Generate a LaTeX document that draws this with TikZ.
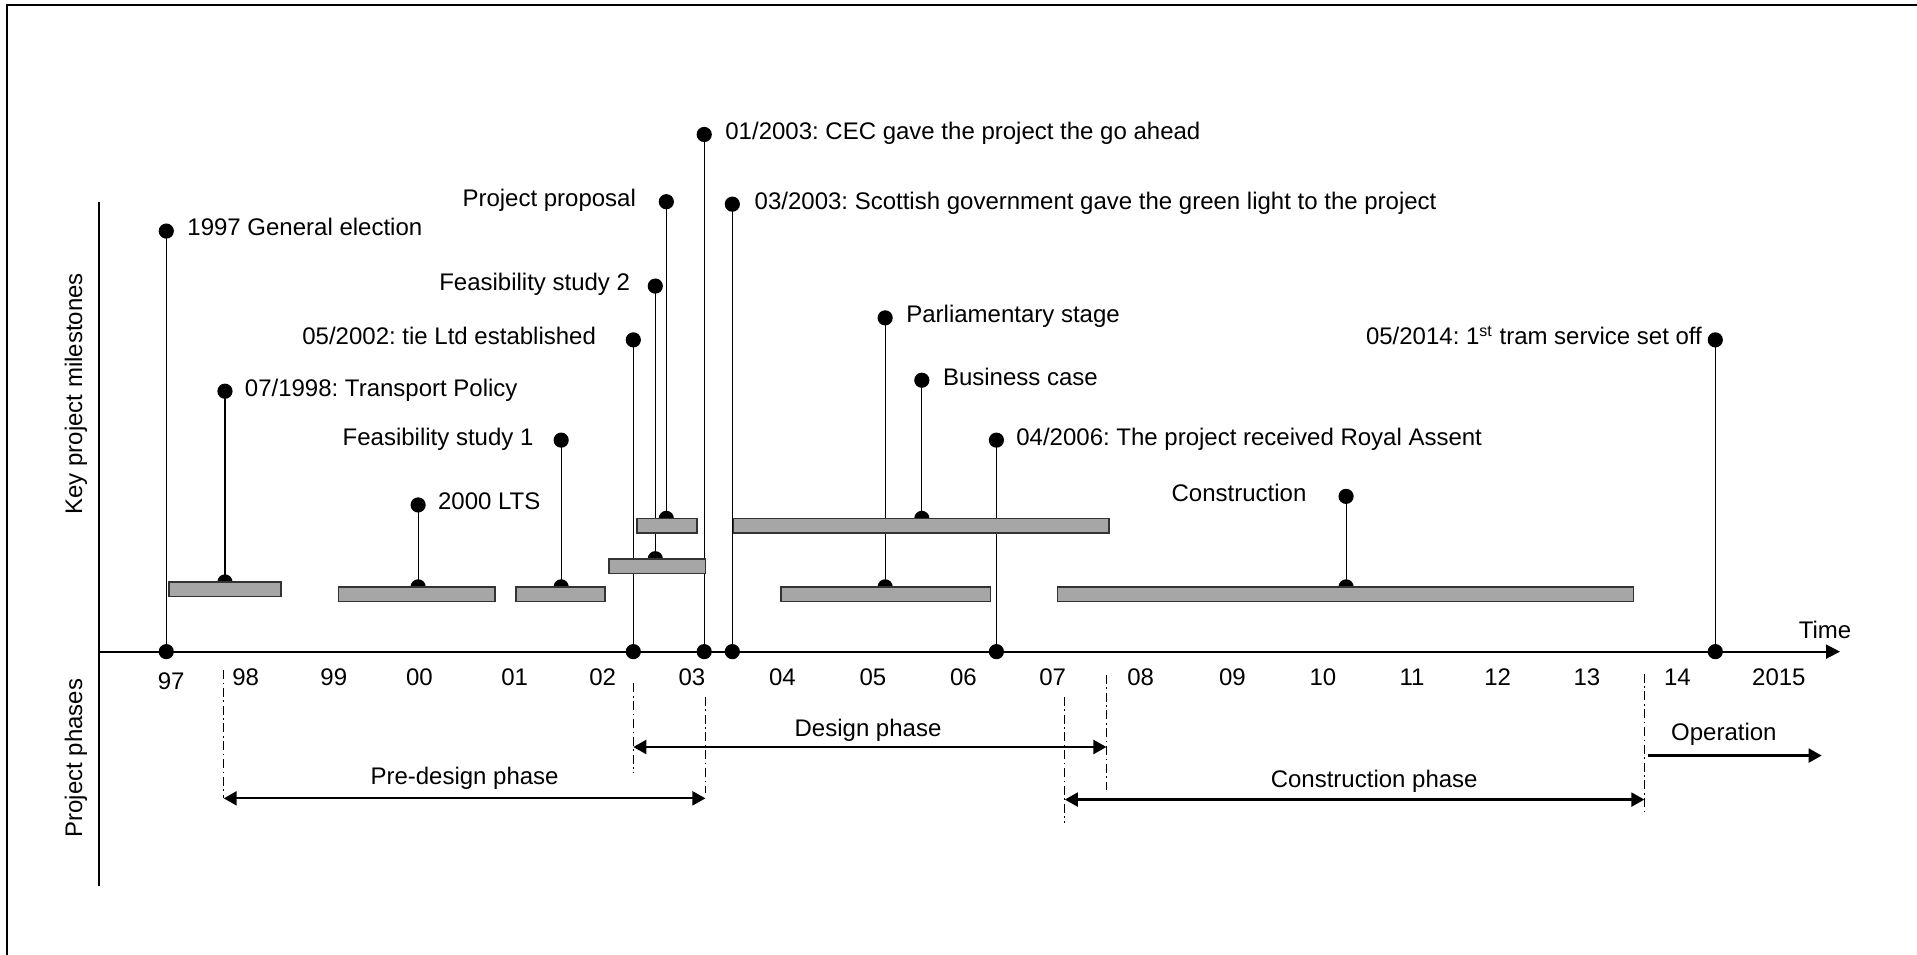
\documentclass[tikz,border=0pt]{standalone}
\usepackage{fontspec}
\setmainfont{Liberation Sans}
\usetikzlibrary{arrows.meta}
\definecolor{barfill}{HTML}{A6A6A6}
\frenchspacing

% one milestone: stem from a top dot down to its foot (axis or bar)
\newcommand\milestone[6]{%
  \coordinate (#1top) at (#2,#3);
  \coordinate (#1foot) at (#2,#4);
  \draw[stem] (#1top) -- (#1foot);
  \fill (#1top) circle[radius=3.8pt];
  \fill (#1foot) circle[radius=3.8pt];
  \node[lbl] (#1text) at (#5,#3+4) {#6};
}
% one activity bar
\newcommand\activity[5]{%
  \draw[barbox] (#2,#3) rectangle (#4,#5);
  \coordinate (#1) at ({(#2+#4)/2},#3);
}

\begin{document}
\begin{tikzpicture}[x=0.6113pt,y=-0.6113pt,
  font=\fontsize{12}{14}\selectfont,
  stem/.style={line width=0.55pt},
  barbox/.style={fill=barfill,draw=black!80,line width=0.8pt},
  lbl/.style={anchor=base west,inner sep=0pt},
  tick/.style={anchor=base,inner sep=0pt},
  axisline/.style={line width=1pt},
  guide/.style={line width=0.55pt,dash pattern=on 4.5pt off 1.8pt on 0.8pt off 1.8pt},
  phase/.style={line width=1.1pt,{Triangle[length=6.5pt,width=7pt]}-{Triangle[length=6.5pt,width=7pt]}},
  onward/.style={line width=1.1pt,-{Triangle[length=6.5pt,width=7pt]}}]

\useasboundingbox (0,0) rectangle (1568,781);

% outer frame (top and left edges)
\draw[line width=1pt] (6,781) -- (6,4) -- (1568,4);

% axes
\coordinate (origin) at (81,533);
\coordinate (ytop) at (81,165);
\coordinate (ybot) at (81,725);
\coordinate (xend) at (1505,533);
\draw[line width=0.7pt] (ytop) -- (ybot);
\draw[axisline,-{Triangle[length=7pt,width=7pt]}] (origin) -- (xend);
\node[lbl] (timelbl) at (1471,522) {Time};

\node[rotate=90,inner sep=0pt] (ylab1) at (62,322) {Key project milestones};
\node[rotate=90,inner sep=0pt] (ylab2) at (62,620) {Project phases};

% milestones
\milestone{ge}{136}{189}{533}{153}{1997 General election}
\milestone{tp}{184}{320}{476}{200}{07/1998: Transport Policy}
\milestone{lts}{342}{413}{480}{358}{2000 LTS}
\milestone{fs1}{459}{360}{480}{280}{Feasibility study 1}
\milestone{tie}{518}{278}{533}{247}{05/2002: tie Ltd established}
\milestone{fs2}{536}{234}{457}{359}{Feasibility study 2}
\milestone{pp}{545}{165}{424}{378}{Project proposal}
\milestone{cec}{576}{110}{533}{593}{01/2003: CEC gave the project the go ahead}
\milestone{sg}{599}{167}{533}{617}{03/2003: Scottish government gave the green light to the project}
\milestone{par}{724}{260}{480}{741}{Parliamentary stage}
\milestone{bc}{754}{311}{424}{771}{Business case}
\milestone{ra}{815}{360}{533}{831}{04/2006: The project received Royal Assent}
\milestone{con}{1101}{406}{480}{958}{Construction}
\milestone{tram}{1403}{278}{533}{1117}{05/2014: 1\textsuperscript{st} tram service set off}

% activity bars (drawn over the stem feet)
\activity{bar1}{138}{476}{230}{488}
\activity{bar2}{277}{480}{405}{492}
\activity{bar3}{422}{480}{495}{492}
\activity{bar4}{498}{457}{577}{469}
\activity{bar5}{521}{424}{570}{436}
\activity{bar6}{600}{424}{907}{436}
\activity{bar7}{639}{480}{810}{492}
\activity{bar8}{865}{480}{1336}{492}

% year labels
\node[tick] (y97) at (140,564) {97};
\node[tick] (y98) at (201,561) {98};
\node[tick] (y99) at (273,561) {99};
\node[tick] (y00) at (343,561) {00};
\node[tick] (y01) at (421,561) {01};
\node[tick] (y02) at (493,561) {02};
\node[tick] (y03) at (566,561) {03};
\node[tick] (y04) at (640,561) {04};
\node[tick] (y05) at (714,561) {05};
\node[tick] (y06) at (788,561) {06};
\node[tick] (y07) at (861,561) {07};
\node[tick] (y08) at (933,561) {08};
\node[tick] (y09) at (1008,561) {09};
\node[tick] (y10) at (1082,561) {10};
\node[tick] (y11) at (1155,561) {11};
\node[tick] (y12) at (1225,561) {12};
\node[tick] (y13) at (1298,561) {13};
\node[tick] (y14) at (1372,561) {14};
\node[tick] (y15) at (1455,561) {2015};

% phase boundaries
\coordinate (g98a) at (183,548);  \coordinate (g98b) at (183,653);
\coordinate (g02a) at (518,559);  \coordinate (g02b) at (518,632);
\coordinate (g03a) at (577,570);  \coordinate (g03b) at (577,649);
\coordinate (g07a) at (871,570);  \coordinate (g07b) at (871,673);
\coordinate (g08a) at (905,552);  \coordinate (g08b) at (905,646);
\coordinate (g14a) at (1345,551); \coordinate (g14b) at (1345,664);
\draw[guide] (g98a) -- (g98b);
\draw[guide] (g02a) -- (g02b);
\draw[guide] (g03a) -- (g03b);
\draw[guide] (g07a) -- (g07b);
\draw[guide] (g08a) -- (g08b);
\draw[guide] (g14a) -- (g14b);

% phase spans
\coordinate (preL) at (183,653);  \coordinate (preR) at (577,653);
\coordinate (desL) at (518,611);  \coordinate (desR) at (905,611);
\coordinate (conL) at (871,654);  \coordinate (conR) at (1345,654);
\coordinate (opL) at (1348,618);  \coordinate (opR) at (1490,618);
\draw[phase] (preL) -- (preR);
\draw[phase] (desL) -- (desR);
\draw[phase] (conL) -- (conR);
\draw[onward] (opL) -- (opR);
\node[tick] (prelbl) at (380,642) {Pre-design phase};
\node[tick] (deslbl) at (710,602) {Design phase};
\node[tick] (conlbl) at (1124,644) {Construction phase};
\node[tick] (oplbl) at (1410,606) {Operation};

\end{tikzpicture}
\end{document}
